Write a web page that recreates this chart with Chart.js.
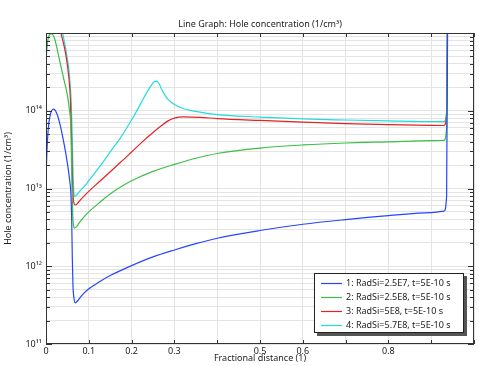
<!DOCTYPE html>
<html>
<head>
<meta charset="utf-8">
<script src="https://cdn.jsdelivr.net/npm/chart.js@4"></script>
<style>
  html, body { margin: 0; padding: 0; background: #fff; }
  #wrap { width: 479px; height: 366px; }
</style>
</head>
<body>
<div id="wrap"><canvas id="chart" width="479" height="366"></canvas></div>
<script>
const titleText = "Line Graph: Hole concentration (1/cm³)";
const xTitle = "Fractional distance (1)";
const yTitle = "Hole concentration (1/cm³)";

const seriesLabels = [
    "1: RadSi=2.5E7, t=5E-10 s",
    "2: RadSi=2.5E8, t=5E-10 s",
    "3: RadSi=5E8, t=5E-10 s",
    "4: RadSi=5.7E8, t=5E-10 s"
];
const seriesColors = ["#2645ff", "#3cbf45", "#e02424", "#22dcdc"];

// 1: RadSi=2.5E7
const x1 = [0, 0.002, 0.005, 0.01, 0.0175, 0.025, 0.033, 0.043, 0.05, 0.055, 0.058, 0.06, 0.0615, 0.063, 0.065, 0.068,
    0.073, 0.08, 0.09, 0.1, 0.125, 0.15, 0.2, 0.25, 0.3, 0.35, 0.4, 0.5, 0.6, 0.7, 0.8, 0.9, 0.93, 0.936, 0.939];
const y1 = [1.26e13, 2.8e13, 5.6e13, 8.9e13, 1.05e14, 9.3e13, 6.6e13, 3.55e13, 2.1e13, 1.32e13, 8.9e12, 4e12, 1.26e12, 5.6e11, 4e11, 3.39e11,
    3.55e11, 3.98e11, 4.57e11, 5.13e11, 6.31e11, 7.59e11, 1.02e12, 1.32e12, 1.62e12, 1.95e12, 2.29e12, 2.88e12, 3.47e12, 3.98e12, 4.47e12, 4.9e12, 5.13e12, 8e12, 1e16];

// 2: RadSi=2.5E8
const x2 = [0, 0.004, 0.012, 0.02, 0.0315, 0.042, 0.05, 0.055, 0.058, 0.0595, 0.061, 0.0625, 0.0645, 0.0666,
    0.07, 0.078, 0.09, 0.1, 0.125, 0.15, 0.175, 0.2, 0.25, 0.3, 0.35, 0.4, 0.5, 0.6, 0.7, 0.8, 0.9, 0.93, 0.936, 0.939];
const y2 = [4.5e14, 7.9e14, 9.8e14, 8.5e14, 4.5e14, 2.5e14, 1.58e14, 1e14, 6.3e13, 2.5e13, 8.9e12, 4.5e12, 3.3e12, 3.1e12,
    3.16e12, 3.63e12, 4.37e12, 5e12, 6.6e12, 8.5e12, 1.05e13, 1.26e13, 1.66e13, 2.04e13, 2.45e13, 2.82e13, 3.31e13, 3.63e13, 3.85e13, 3.98e13, 4.12e13, 4.17e13, 6e13, 1e16];

// 3: RadSi=5E8
const x3 = [0, 0.03, 0.035, 0.046, 0.053, 0.057, 0.0595, 0.061, 0.0625, 0.064, 0.066, 0.068,
    0.072, 0.078, 0.09, 0.1, 0.125, 0.15, 0.175, 0.2, 0.225, 0.25, 0.27, 0.285, 0.3, 0.32, 0.36, 0.4, 0.5, 0.6, 0.7, 0.8, 0.9, 0.93, 0.936, 0.939];
const y3 = [1e16, 1.32e15, 1e15, 5.4e14, 2.8e14, 1.41e14, 5e13, 2e13, 1e13, 7.1e12, 6.3e12, 6.17e12,
    6.3e12, 6.9e12, 8.1e12, 9.2e12, 1.23e13, 1.64e13, 2.19e13, 2.95e13, 3.98e13, 5.25e13, 6.46e13, 7.41e13, 8.04e13, 8.32e13, 8.22e13, 7.94e13, 7.5e13, 7.13e13, 6.84e13, 6.64e13, 6.49e13, 6.46e13, 9e13, 1e16];

// 4: RadSi=5.7E8
const x4 = [0, 0.035, 0.039, 0.048, 0.055, 0.059, 0.0612, 0.0628, 0.0643, 0.0655, 0.0665,
    0.072, 0.078, 0.09, 0.1, 0.125, 0.15, 0.175, 0.19, 0.205, 0.22, 0.235, 0.245, 0.252, 0.258, 0.264, 0.27, 0.278, 0.288,
    0.3, 0.32, 0.35, 0.4, 0.5, 0.6, 0.7, 0.8, 0.9, 0.93, 0.936, 0.939];
const y4 = [1e16, 1.32e15, 1e15, 5.4e14, 2.8e14, 1.26e14, 5e13, 2e13, 1.05e13, 8.3e12, 7.9e12,
    8.3e12, 9.1e12, 1.07e13, 1.26e13, 1.9e13, 2.95e13, 4.57e13, 6.17e13, 8.5e13, 1.2e14, 1.7e14, 2.09e14, 2.34e14, 2.4e14, 2.24e14, 1.9e14, 1.58e14, 1.35e14,
    1.2e14, 1.07e14, 9.8e13, 8.9e13, 8.3e13, 7.85e13, 7.6e13, 7.4e13, 7.25e13, 7.25e13, 1e14, 1e16];

const xTicks = [0, 0.1, 0.2, 0.3, 0.4, 0.5, 0.6, 0.7, 0.8, 0.9, 1.0];
const xTickLabels = ["0", "0.1", "0.2", "0.3", "", "0.5", "0.6", "", "0.8", "", ""];
const yDecades = [11, 12, 13, 14];
const yDecadeLabels = ["10¹¹", "10¹²", "10¹³", "10¹⁴"];

const FONT = "'Noto Sans', 'DejaVu Sans', sans-serif";
const xs = [x1, x2, x3, x4];
const ys = [y1, y2, y3, y4];

function buildYTicks() {
    const ticks = [];
    yDecades.forEach(d => {
        for (let m = 1; m <= 9; m++) ticks.push({ value: m * Math.pow(10, d) });
    });
    ticks.push({ value: 1e15 });
    return ticks;
}

function yLabel(value) {
    const i = yDecades.findIndex(d => Math.abs(value - Math.pow(10, d)) < Math.pow(10, d) * 1e-6);
    return i >= 0 ? yDecadeLabels[i] : '';
}

const datasets = seriesLabels.map((label, i) => ({
    label: label,
    data: xs[i].map((x, k) => ({ x: x, y: ys[i][k] })),
    borderColor: seriesColors[i],
    borderWidth: 1.2,
    pointRadius: 0,
    fill: false,
    cubicInterpolationMode: 'monotone'
}));

const titlePlugin = {
    id: 'plotTitle',
    afterDraw(chart) {
        const { ctx, chartArea: a } = chart;
        ctx.save();
        ctx.font = "9px " + FONT;
        ctx.fillStyle = '#222';
        ctx.textAlign = 'center';
        ctx.textBaseline = 'middle';
        ctx.fillText(titleText, (a.left + a.right) / 2, a.top - 9);
        ctx.restore();
    }
};

const framePlugin = {
    id: 'frameTicks',
    afterDatasetsDraw(chart) {
        const { ctx, chartArea: a, scales } = chart;
        ctx.save();
        ctx.strokeStyle = '#333';
        ctx.lineWidth = 1;
        ctx.beginPath();
        scales.x.ticks.forEach(t => {
            const px = Math.round(scales.x.getPixelForValue(t.value)) + 0.5;
            ctx.moveTo(px, a.top); ctx.lineTo(px, a.top + 4);
            ctx.moveTo(px, a.bottom); ctx.lineTo(px, a.bottom - 4);
        });
        scales.y.ticks.forEach(t => {
            const py = Math.round(scales.y.getPixelForValue(t.value)) + 0.5;
            const len = yLabel(t.value) ? 6 : 4;
            ctx.moveTo(a.left, py); ctx.lineTo(a.left + len, py);
            ctx.moveTo(a.right, py); ctx.lineTo(a.right - len, py);
        });
        ctx.stroke();
        ctx.strokeRect(Math.round(a.left) + 0.5, Math.round(a.top) + 0.5,
            Math.round(a.right - a.left) - 1, Math.round(a.bottom - a.top) - 1);
        ctx.restore();
    }
};

const legendPlugin = {
    id: 'boxLegend',
    afterDraw(chart) {
        const { ctx, chartArea: a } = chart;
        const w = 150, h = 60;
        const bx = a.right - 10 - w, by = a.bottom - 11 - h;
        ctx.save();
        ctx.fillStyle = '#555';
        ctx.fillRect(bx + 3, by + 3, w, h);
        ctx.fillStyle = '#fff';
        ctx.fillRect(bx, by, w, h);
        ctx.strokeStyle = '#222';
        ctx.lineWidth = 1;
        ctx.strokeRect(bx + 0.5, by + 0.5, w - 1, h - 1);
        ctx.font = "9px " + FONT;
        ctx.textBaseline = 'middle';
        chart.data.datasets.forEach((ds, i) => {
            const ry = by + 10.5 + i * 14;
            ctx.strokeStyle = ds.borderColor;
            ctx.lineWidth = 1.2;
            ctx.beginPath();
            ctx.moveTo(bx + 7, ry); ctx.lineTo(bx + 28, ry);
            ctx.stroke();
            ctx.fillStyle = '#222';
            ctx.fillText(ds.label, bx + 32, ry);
        });
        ctx.restore();
    }
};

new Chart(document.getElementById('chart'), {
    type: 'line',
    data: { datasets: datasets },
    plugins: [titlePlugin, framePlugin, legendPlugin],
    options: {
        responsive: false,
        animation: false,
        layout: { padding: { top: 33, right: 5, left: 0, bottom: 0 } },
        plugins: { legend: { display: false }, tooltip: { enabled: false } },
        scales: {
            x: {
                type: 'linear',
                min: 0,
                max: 1,
                afterBuildTicks: s => { s.ticks = xTicks.map(v => ({ value: v })); },
                afterFit: s => { s.height = 22; },
                ticks: {
                    autoSkip: false,
                    maxRotation: 0,
                    padding: 2,
                    color: '#222',
                    font: { family: FONT, size: 9 },
                    callback: (v) => {
                        const i = xTicks.findIndex(t => Math.abs(t - v) < 1e-9);
                        return i >= 0 ? xTickLabels[i] : '';
                    }
                },
                grid: { color: '#e4e4e4', drawTicks: false },
                border: { display: false },
                title: {
                    display: true,
                    text: xTitle,
                    color: '#222',
                    font: { family: FONT, size: 9 },
                    padding: { top: 0, bottom: 2 }
                }
            },
            y: {
                type: 'logarithmic',
                min: 1e11,
                max: 1e15,
                afterBuildTicks: s => { s.ticks = buildYTicks(); },
                afterFit: s => { s.width = 46; },
                ticks: {
                    autoSkip: false,
                    padding: 4,
                    color: '#222',
                    font: { family: FONT, size: 9 },
                    callback: (v) => yLabel(v)
                },
                grid: { color: '#e4e4e4', drawTicks: false },
                border: { display: false },
                title: {
                    display: true,
                    text: yTitle,
                    color: '#222',
                    font: { family: FONT, size: 9 },
                    padding: { top: 3, bottom: 0 }
                }
            }
        }
    }
});
</script>
</body>
</html>
